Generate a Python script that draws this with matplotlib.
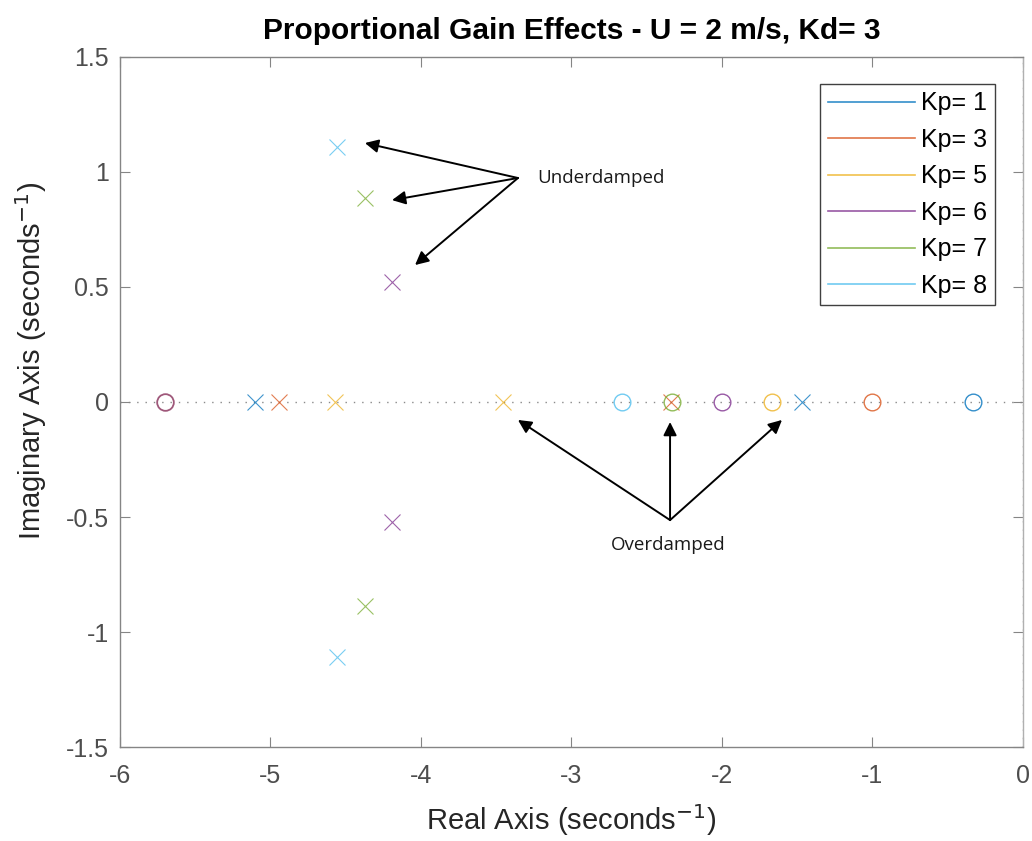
import matplotlib
matplotlib.use("Agg")
import matplotlib.pyplot as plt

plt.rcParams['font.family'] = ['Liberation Sans', 'DejaVu Sans']
plt.rcParams['axes.unicode_minus'] = False

# ---- data ----
kp_values = [1, 3, 5, 6, 7, 8]
labels = ["Kp= 1", "Kp= 3", "Kp= 5", "Kp= 6", "Kp= 7", "Kp= 8"]
colors = ["#0072BD", "#D95319", "#EDB120", "#7E2F8E", "#77AC30", "#4DBEEE"]
pole_re = [[-5.103, -1.465], [-4.941, -2.338], [-4.571, -3.452],
           [-4.194, -4.194], [-4.372, -4.372], [-4.556, -4.556]]
pole_im = [[0.0, 0.0], [0.0, 0.0], [0.0, 0.0],
           [0.52, -0.52], [0.885, -0.885], [1.109, -1.109]]
zero_re = [-1/3, -1.0, -5/3, -2.0, -7/3, -8/3]
shared_zero_re = -5.70
shared_zero_color = "#8E3B63"

title = "Proportional Gain Effects - U = 2 m/s, Kd= 3"
xlabel = "Real Axis (seconds$^{-1}$)"
ylabel = "Imaginary Axis (seconds$^{-1}$)"
xticks = [-6, -5, -4, -3, -2, -1, 0]
yticks = [-1.5, -1, -0.5, 0, 0.5, 1, 1.5]
ytick_labels = ["-1.5", "-1", "-0.5", "0", "0.5", "1", "1.5"]

under_text = "Underdamped"
under_tail = (-3.355, 0.973)
under_heads = [(-4.372, 1.125), (-4.192, 0.877), (-4.039, 0.595)]
over_text = "Overdamped"
over_tail = (-2.344, -0.513)
over_heads = [(-3.355, -0.078), (-2.344, -0.087), (-1.60, -0.078)]

# ---- figure ----
fig = plt.figure(figsize=(10.32, 8.41), dpi=100)
ax = fig.add_axes([0.1163, 0.1114, 0.8747, 0.8212])

axis_grey = "#858585"
text_grey = "#4d4d4d"

ax.axhline(0, color="#8a8a8a", lw=1.0, ls=(0, (1, 5)), zorder=1)
ax.axvline(0, color="#8a8a8a", lw=1.0, ls=(0, (1, 5)), zorder=1)

for i in range(len(kp_values)):
    c = colors[i]
    ax.plot(pole_re[i], pole_im[i], ls="none", marker="x", ms=11,
            mew=0.8, color=c, alpha=0.75, zorder=3)
    ax.plot([zero_re[i]], [0], ls="none", marker="o", ms=12, mew=1.0,
            mfc="none", mec=c, alpha=0.8, zorder=3)
    ax.plot([], [], color=c, lw=1.2, alpha=0.8, label=labels[i])

ax.plot([shared_zero_re], [0], ls="none", marker="o", ms=12, mew=1.3,
        mfc="none", mec=shared_zero_color, alpha=0.85, zorder=4)

ax.set_xlim(-6, 0)
ax.set_ylim(-1.5, 1.5)
ax.set_xticks(xticks)
ax.set_yticks(yticks)
ax.set_yticklabels(ytick_labels)
ax.tick_params(direction="in", length=7, width=0.8, colors=axis_grey,
               labelcolor=text_grey, labelsize=18, top=True, right=True, pad=8)
ax.tick_params(axis="x", pad=12)
for s in ax.spines.values():
    s.set_color(axis_grey)
    s.set_linewidth(1.0)
ax.spines["right"].set_color("#b0b0b0")

ax.set_xlabel(xlabel, fontsize=21, color="#262626", labelpad=10)
ax.set_ylabel(ylabel, fontsize=21, color="#262626")
ax.yaxis.set_label_coords(-0.079, 0.56)
ax.set_title(title, fontsize=21.5, fontweight="bold", color="black", pad=13)

leg = ax.legend(loc="upper right", bbox_to_anchor=(0.9693, 0.9605),
                borderaxespad=0, fontsize=18, handlelength=3.5,
                labelspacing=0.5, fancybox=False, framealpha=1,
                edgecolor="#404040", handletextpad=0.24, borderpad=0.3)
leg.get_frame().set_linewidth(1.0)

ann_font = ['Open Sans', 'DejaVu Sans']
ax.text(under_tail[0] + 0.13, under_tail[1], under_text, fontsize=13.5,
        family=ann_font, va="center", ha="left", color="#1a1a1a")
for h in under_heads:
    ax.annotate("", xy=h, xytext=under_tail,
                arrowprops=dict(arrowstyle="-|>", color="black", lw=1.4,
                                mutation_scale=20, shrinkA=0, shrinkB=0))
ax.text(over_tail[0] - 0.01, over_tail[1] - 0.108, over_text, fontsize=13.5,
        family=ann_font, va="center", ha="center", color="#1a1a1a")
for h in over_heads:
    ax.annotate("", xy=h, xytext=over_tail,
                arrowprops=dict(arrowstyle="-|>", color="black", lw=1.4,
                                mutation_scale=20, shrinkA=0, shrinkB=0))

fig.savefig("out.png", dpi=100, facecolor="white")
